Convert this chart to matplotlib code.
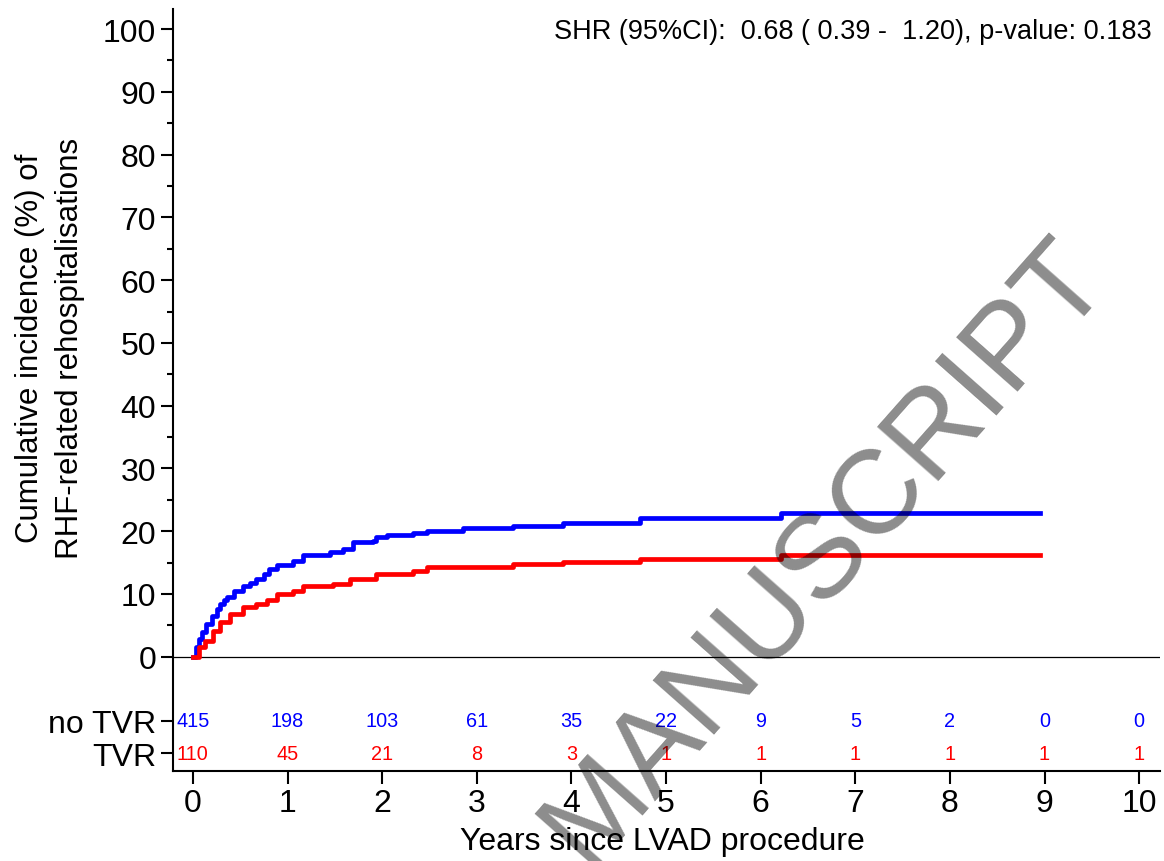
import matplotlib
matplotlib.use("Agg")
import matplotlib.pyplot as plt
import numpy as np

plt.rcParams['font.family'] = ['Liberation Sans', 'DejaVu Sans']

# ---- data ----
t_notvr = [0, 0.03, 0.06, 0.1, 0.14, 0.2, 0.25, 0.29, 0.33, 0.36, 0.43, 0.53, 0.6, 0.67, 0.75, 0.8,
           0.89, 1.06, 1.16, 1.45, 1.59, 1.69, 1.9, 1.94, 2.05, 2.33, 2.47, 2.85, 3.38, 3.91, 4.72, 6.22, 8.95]
ci_notvr = [0, 1.5, 2.8, 4.0, 5.2, 6.5, 7.6, 8.4, 9.0, 9.5, 10.5, 11.3, 11.8, 12.4, 13.2, 14.0,
            14.6, 15.3, 16.2, 16.7, 17.2, 18.3, 18.5, 19.1, 19.4, 19.7, 20.1, 20.5, 20.9, 21.3, 22.1, 22.9, 22.9]
t_tvr = [0, 0.05, 0.07, 0.13, 0.21, 0.29, 0.39, 0.53, 0.67, 0.78, 0.89, 1.06, 1.16, 1.48, 1.66,
         1.94, 2.33, 2.47, 3.38, 3.91, 4.72, 6.22, 8.95]
ci_tvr = [0, 0, 1.6, 2.5, 4.1, 5.5, 6.8, 7.9, 8.4, 9.1, 10.0, 10.5, 11.3, 11.6, 12.4,
          13.2, 13.7, 14.3, 14.8, 15.1, 15.6, 16.2, 16.2]

risk_times = [0, 1, 2, 3, 4, 5, 6, 7, 8, 9, 10]
risk_notvr = [415, 198, 103, 61, 35, 22, 9, 5, 2, 0, 0]
risk_tvr = [110, 45, 21, 8, 3, 1, 1, 1, 1, 1, 1]
group_labels = ["no TVR", "TVR"]
yticks = [0, 10, 20, 30, 40, 50, 60, 70, 80, 90, 100]
xticks = [0, 1, 2, 3, 4, 5, 6, 7, 8, 9, 10]
annotation = "SHR (95%CI):  0.68 ( 0.39 -  1.20), p-value: 0.183"

W, H = 1164, 862
fig = plt.figure(figsize=(W / 100, H / 100), dpi=100)
ax = fig.add_axes([173 / W, 1 - 772 / H, (1160 - 173) / W, (772 - 10) / H])

ax.plot(t_notvr, ci_notvr, drawstyle='steps-post', color='#0000ff', lw=3.4, solid_joinstyle='round', zorder=3)
ax.plot(t_tvr, ci_tvr, drawstyle='steps-post', color='#ff0000', lw=3.4, solid_joinstyle='round', zorder=3)
ax.axhline(0, color='black', lw=0.9, zorder=2)

ax.set_xlim(-0.21, 10.22)
ax.set_ylim(-18.2, 103.2)

y_notvr, y_tvr = -10.2, -15.4
for t, a, b in zip(risk_times, risk_notvr, risk_tvr):
    ax.text(t, y_notvr, str(a), color='#0000ff', ha='center', va='center', fontsize=14.3)
    ax.text(t, y_tvr, str(b), color='#ff0000', ha='center', va='center', fontsize=14.3)

ax.set_yticks(yticks + [y_notvr, y_tvr])
ax.set_yticklabels([str(v) for v in yticks] + group_labels)
ax.set_yticks(np.arange(5, 100, 10), minor=True)
ax.set_xticks(xticks)
ax.set_xticklabels([str(v) for v in xticks])

for s in ['top', 'right']:
    ax.spines[s].set_visible(False)
for s in ['left', 'bottom']:
    ax.spines[s].set_linewidth(1.5)
ax.tick_params(axis='both', which='major', length=9, width=1.5, labelsize=23, pad=3)
ax.tick_params(axis='y', which='minor', length=4.5, width=1.5)

fig.text(50 / W, 1 - 348 / H, "Cumulative incidence (%) of\nRHF-related rehospitalisations",
         rotation=90, ha='center', va='center', multialignment='center', fontsize=22.5, linespacing=1.43)
fig.text(662 / W, 1 - 842 / H, "Years since LVAD procedure", ha='center', va='center', fontsize=23)
fig.text(1152 / W, 1 - 32 / H, annotation, ha='right', va='center', fontsize=19.5)

fig.text(825 / W, 1 - 552 / H, "MANUSCRIPT", rotation=48.5, ha='center', va='center',
         fontsize=86, color='black', alpha=0.45, zorder=10)

fig.savefig("out.png", dpi=100)
